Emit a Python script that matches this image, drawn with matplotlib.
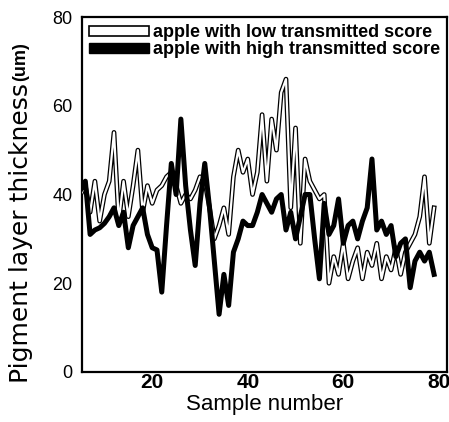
import numpy as np
import matplotlib
matplotlib.use("Agg")
import matplotlib.pyplot as plt
from matplotlib.patches import Patch

# sample numbers 5..79
samples = np.arange(5, 80)

# pigment layer thickness (um)
low_score = [40, 42, 36, 43, 34, 40, 43, 54, 34, 43,
             35, 42, 50, 36, 42, 38, 41, 42, 44, 45,
             42, 38, 40, 39, 41, 44, 43, 37, 30, 33,
             37, 31, 44, 50, 45, 48, 40, 45, 58, 43,
             57, 50, 63, 66, 37, 55, 29, 48, 43, 41,
             39, 40, 20, 26, 22, 29, 21, 25, 28, 21,
             27, 24, 29, 21, 26, 23, 28, 22, 27, 29,
             31, 35, 44, 29, 37]
high_score = [41, 43, 31, 32, 32.5, 33.5, 35, 37, 33, 36,
              28, 33, 35, 37, 31, 28, 27.5, 18, 33, 47,
              40, 57, 42, 32, 24, 38, 47, 37, 25, 13,
              22, 15, 27, 30, 34, 33, 33, 36, 40, 38,
              36, 39, 40, 32, 36, 30, 35, 40, 40, 30,
              21, 38, 31, 33, 39, 29, 33, 34, 30, 34,
              37, 48, 32, 34, 31, 33, 26, 29, 30, 19,
              25, 27, 25, 27, 22]

labels = ['apple with low transmitted score', 'apple with high transmitted score']

plt.rcParams['font.family'] = ['Liberation Sans', 'DejaVu Sans']

fig = plt.figure(figsize=(4.49, 4.22), dpi=100)
ax = fig.add_axes([0.1826, 0.1185, 0.8129, 0.8412])

# hollow ribbon: thick black with a white core
ax.plot(samples, low_score, color='black', lw=3.4, zorder=2)
ax.plot(samples, low_score, color='white', lw=1.6, zorder=3)
# solid ribbon
ax.plot(samples, high_score, color='black', lw=3.6, zorder=4)

ax.set_xlim(5.3, 81.7)
ax.set_ylim(0, 80)
ax.set_xticks([20, 40, 60, 80])
ax.set_yticks([0, 20, 40, 60, 80])
ax.tick_params(axis='both', length=0)
ax.tick_params(axis='y', pad=7, labelsize=13)
ax.tick_params(axis='x', pad=1, labelsize=15)
for t in ax.get_xticklabels():
    t.set_fontweight('bold')
for s in ax.spines.values():
    s.set_linewidth(1.6)

ax.set_xlabel('Sample number', fontsize=16, labelpad=1)
ylab = fig.text(0.047, 0.093, 'Pigment layer thickness', rotation=90,
                family='DejaVu Sans', fontsize=18, ha='center', va='bottom')

# put the bold unit right after the label
fig.canvas.draw()
bb = ylab.get_window_extent().transformed(fig.transFigure.inverted())
fig.text(0.047, bb.y1 + 0.004, '(um)', rotation=90, fontweight='bold',
         fontsize=13, ha='center', va='bottom')

handles = [Patch(facecolor='white', edgecolor='black', lw=1.2),
           Patch(facecolor='black', edgecolor='black')]
ax.legend(handles, labels, loc='upper left', bbox_to_anchor=(0.0, 1.0),
          frameon=False, handlelength=3.3, handleheight=0.45,
          handletextpad=0.25, labelspacing=0.0, borderaxespad=0.2,
          borderpad=0.2, prop={'weight': 'bold', 'size': 13})

fig.savefig('out.png', dpi=100)
